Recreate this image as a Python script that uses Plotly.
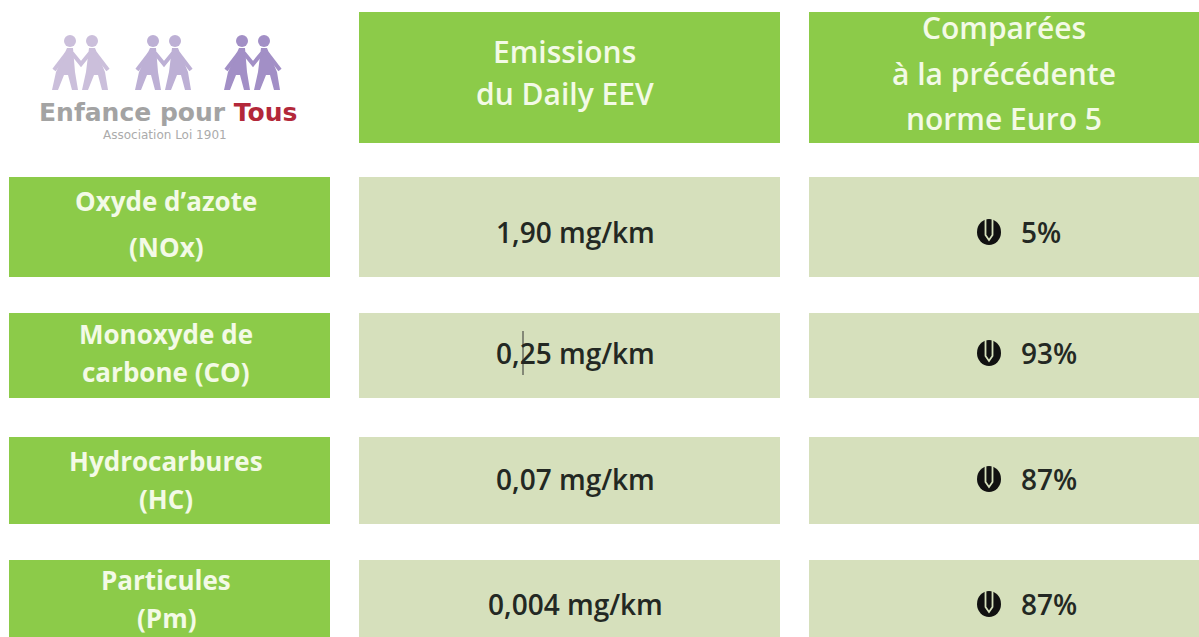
import plotly.graph_objects as go

# ---------------- data ----------------
header_col2 = ["Emissions", "du Daily EEV"]
header_col3 = ["Comparées", "à la précédente", "norme Euro 5"]
pollutant_lines = [
    ["Oxyde d’azote", "(NOx)"],
    ["Monoxyde de", "carbone (CO)"],
    ["Hydrocarbures", "(HC)"],
    ["Particules", "(Pm)"],
]
emissions = ["1,90 mg/km", "0,25 mg/km", "0,07 mg/km", "0,004 mg/km"]
reductions_pct = [5, 93, 87, 87]
logo_name = ["Enfance pour ", "Tous"]
logo_sub = "Association Loi 1901"

# ---------------- layout geometry (pixels) ----------------
W, H = 1199, 637
COLS = [(9, 330), (359, 780), (809, 1215)]
HEADER_ROW = (12, 143)
ROWS = [(177, 277), (313, 398), (437, 524), (560, 665)]
HEAD2_Y = [51, 93]
HEAD3_Y = [27, 73, 118]
LABEL_MID = [224, 353, 480, 599]
LABEL_GAP = [46, 38, 38, 38]
VALUE_Y = [232, 353, 479, 604]
LABEL_X = 166
VALUE_X = 575
GLYPH_X = 989
PCT_X = 1019

GREEN = "#8CCB49"
PALE = "#D6E0BC"
HEAD_TXT = "#F3FAE6"
DARK_TXT = "#232823"
FONT = "Open Sans"

shapes = []
annotations = []


def rect(x0, x1, y0, y1, color):
    shapes.append(dict(type="rect", xref="x", yref="y", x0=x0, x1=x1, y0=y0, y1=y1,
                       fillcolor=color, line=dict(width=0), layer="below"))


def text(x, y, s, size, color, weight=600, xanchor="center", family=FONT):
    annotations.append(dict(x=x, y=y, xref="x", yref="y", text=s, showarrow=False,
                            xanchor=xanchor, yanchor="middle",
                            font=dict(family=family, size=size, color=color, weight=weight)))


# header cells
rect(COLS[1][0], COLS[1][1], HEADER_ROW[0], HEADER_ROW[1], GREEN)
rect(COLS[2][0], COLS[2][1], HEADER_ROW[0], HEADER_ROW[1], GREEN)
cx2 = (COLS[1][0] + COLS[1][1]) / 2
cx3 = (COLS[2][0] + 1199) / 2
for s, y in zip(header_col2, HEAD2_Y):
    text(cx2 - 5, y, s, 30, HEAD_TXT, weight=650)
for s, y in zip(header_col3, HEAD3_Y):
    text(cx3, y, s, 30, HEAD_TXT, weight=650)

# body rows
for i, (y0, y1) in enumerate(ROWS):
    rect(COLS[0][0], COLS[0][1], y0, y1, GREEN)
    rect(COLS[1][0], COLS[1][1], y0, y1, PALE)
    rect(COLS[2][0], COLS[2][1], y0, y1, PALE)
    l1, l2 = pollutant_lines[i]
    text(LABEL_X, LABEL_MID[i] - LABEL_GAP[i] / 2, l1, 26, HEAD_TXT, weight=700)
    text(LABEL_X, LABEL_MID[i] + LABEL_GAP[i] / 2, l2, 26, HEAD_TXT, weight=700)
    text(VALUE_X, VALUE_Y[i], emissions[i], 28, DARK_TXT, weight=600)
    text(PCT_X, VALUE_Y[i], f"{reductions_pct[i]}%", 28, DARK_TXT, weight=600, xanchor="left")
    # decrease glyph (U with down arrow)
    gy = VALUE_Y[i]
    shapes.append(dict(type="circle", xref="x", yref="y", x0=GLYPH_X - 12, x1=GLYPH_X + 12,
                       y0=gy - 13, y1=gy + 13, fillcolor="#111111", line=dict(width=0)))
    shapes.append(dict(type="path", xref="x", yref="y",
                       path=f"M {GLYPH_X-3.5},{gy-14} L {GLYPH_X-3.5},{gy+3} L {GLYPH_X},{gy+8} "
                            f"L {GLYPH_X+3.5},{gy+3} L {GLYPH_X+3.5},{gy-14}",
                       line=dict(color=PALE, width=1.8)))

# stray text cursor visible in the source image
shapes.append(dict(type="line", xref="x", yref="y", x0=523, x1=523, y0=331, y1=375,
                   line=dict(color="#333333", width=1)))


# ---------------- logo ----------------
def child(hx, color, lean):
    shapes.append(dict(type="circle", xref="x", yref="y", x0=hx - 6, x1=hx + 6, y0=35, y1=47,
                       fillcolor=color, line=dict(width=0)))
    b = hx + lean
    path = (f"M {hx-3},48 L {hx+3},48 L {b+9},72 L {b+12},90 L {b+6},90 L {b+2},75 "
            f"L {b-2},75 L {b-8},90 L {b-14},90 L {b-10},72 Z")
    shapes.append(dict(type="path", xref="x", yref="y", path=path, fillcolor=color,
                       line=dict(width=0)))


pair_colors = ["#CBBFDB", "#BDB0D5", "#A28FC6"]
pair_centers = [81, 164, 253]
for pc, col in zip(pair_centers, pair_colors):
    child(pc - 11, col, -4)
    child(pc + 11, col, 4)
    shapes.append(dict(type="path", xref="x", yref="y",
                       path=f"M {pc-9},53 L {pc},64 L {pc+9},53",
                       line=dict(color=col, width=4)))
    shapes.append(dict(type="line", xref="x", yref="y", x0=pc - 14, x1=pc - 27, y0=53, y1=70,
                       line=dict(color=col, width=4)))
    shapes.append(dict(type="line", xref="x", yref="y", x0=pc + 14, x1=pc + 27, y0=53, y1=70,
                       line=dict(color=col, width=4)))

annotations.append(dict(x=168, y=112, xref="x", yref="y", showarrow=False,
                        xanchor="center", yanchor="middle",
                        text=f"<span style='color:#A3A3A3'>{logo_name[0]}</span>"
                             f"<span style='color:#B3283A'>{logo_name[1]}</span>",
                        font=dict(family="DejaVu Sans", size=25, weight=700, color="#A3A3A3")))
text(165, 135, logo_sub, 12, "#ABABAB", weight=400, family="DejaVu Sans")

fig = go.Figure()
fig.update_layout(
    width=W, height=H,
    margin=dict(l=0, r=0, t=0, b=0),
    paper_bgcolor="white", plot_bgcolor="white",
    xaxis=dict(range=[0, W], visible=False, fixedrange=True),
    yaxis=dict(range=[H, 0], visible=False, fixedrange=True),
    shapes=shapes, annotations=annotations, showlegend=False,
)
fig.write_html("out.html", config={"displayModeBar": False},
               post_script="document.body.style.margin='0';document.body.style.overflow='hidden';")
